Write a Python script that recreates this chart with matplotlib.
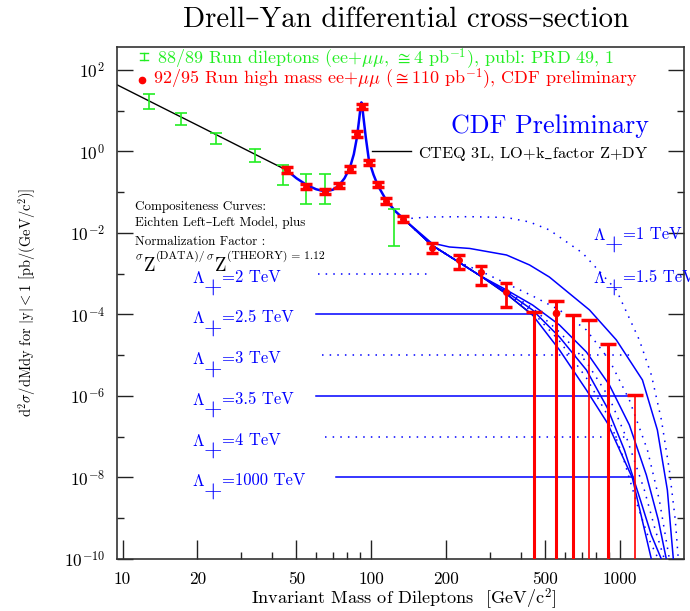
import matplotlib
matplotlib.use('Agg')
import matplotlib.pyplot as plt
from matplotlib.lines import Line2D
from matplotlib.ticker import FixedLocator, NullFormatter

plt.rcParams['font.family'] = ['cmr10', 'DejaVu Serif']
plt.rcParams['mathtext.fontset'] = 'cm'
plt.rcParams['axes.formatter.use_mathtext'] = True
plt.rcParams['axes.unicode_minus'] = False

BLUE = '#0000ff'
RED = '#ff0000'
GREEN = '#22ee22'

# ---------------- data ----------------
# 88/89 run (green)
g_mass = [12.8, 17.1, 23.8, 34.2, 44.2, 54.8, 65.2, 123.0]
g_xsec = [16.7, 6.5, 2.06, 0.82, 0.33, 0.137, 0.103, 0.020]
g_low = [11.0, 4.47, 1.53, 0.55, 0.153, 0.0506, 0.0506, 0.0049]
g_high = [25.3, 8.96, 2.8, 1.15, 0.47, 0.28, 0.28, 0.038]

# 92/95 run (red), measured points
r_mass = [45.6, 54.8, 65.2, 74.1, 81.8, 87.9, 91.6, 97.8, 106.4, 114.8, 134.3,
          175.8, 225.0, 275.0, 349.0]
r_xsec = [0.35, 0.137, 0.103, 0.145, 0.37, 2.64, 12.6, 0.54, 0.153, 0.061, 0.022,
          0.00435, 0.00217, 0.0011, 3.63e-4]
r_low = [0.30, 0.117, 0.088, 0.124, 0.316, 2.26, 10.8, 0.46, 0.131, 0.052, 0.0188,
         0.0033, 0.00133, 0.00054, 1.55e-4]
r_high = [0.41, 0.160, 0.120, 0.170, 0.433, 3.09, 14.7, 0.63, 0.179, 0.071, 0.0257,
          0.0056, 0.00288, 0.00158, 6.0e-4]

# red point whose lower error reaches the bottom of the plot
r_open_mass = [550.0]
r_open_xsec = [1.11e-4]
r_open_high = [2.18e-4]

# red bars without a central value (upper ends only)
lim_mass = [449.0, 647.0, 748.0, 897.0, 1148.0]
lim_top = [1.15e-4, 9.55e-5, 7.3e-5, 1.86e-5, 1.06e-6]
lim_thick = [True, True, False, True, False]

# CTEQ 3L Drell-Yan, low mass part
dy_mass = [9.52, 15.0, 20.0, 30.0, 40.0, 45.6]
dy_xsec = [42.9, 10.6, 4.4, 1.26, 0.52, 0.35]

# Z region shared by all compositeness curves
z_mass = [45.6, 50, 55, 60, 65, 70, 74, 78, 82, 85, 87.5, 89.3, 90.4, 91.2,
          92.0, 93.2, 95, 97.8, 102, 106, 115, 125, 134.9]
z_xsec = [0.35, 0.22, 0.15, 0.118, 0.105, 0.115, 0.145, 0.22, 0.40, 0.85, 2.2,
          6.0, 11.5, 16.0, 12.0, 6.0, 2.2, 0.6, 0.27, 0.15, 0.062, 0.034, 0.0221]

# CTEQ curve above the Z
cteq_mass = [134.9, 174.6, 224.2, 274.8, 349.5, 444.6]
cteq_xsec = [0.0221, 0.00508, 0.00194, 8.81e-4, 3.18e-4, 9.72e-5]

# compositeness tails, Lambda_+ in TeV
lam1_mass = [134.9, 171.4, 248.4, 349.5, 432.5, 519.6, 706.3, 966, 1195, 1336, 1466, 1578, 1667, 1714]
lam1_xsec = [0.0221, 0.0247, 0.0251, 0.024, 0.0186, 0.01186, 0.00323, 3.99e-4, 2.37e-5, 3.27e-6,
             2.58e-7, 1.53e-8, 9.06e-10, 1e-10]
lam15_mass = [134.9, 174.6, 206, 248.4, 349.5, 432.5, 519.6, 753.6, 966, 1230, 1412, 1549, 1637]
lam15_xsec = [0.0221, 0.00569, 0.00453, 0.00417, 0.00288, 0.00164, 8.3e-4, 1.29e-4, 2.37e-5,
              2.47e-6, 1.47e-7, 4.93e-9, 1e-10]
lam2_mass = [134.9, 174.6, 224.2, 285, 359, 444.6, 570.5, 732.2, 905.8, 1089.7, 1288, 1438, 1578]
lam2_xsec = [0.0221, 0.00508, 0.00194, 1.04e-3, 5.3e-4, 2.85e-4, 1.29e-4, 4.17e-5, 7.6e-6,
             7.98e-7, 4.73e-8, 2.8e-9, 1e-10]
lam25_mass = [134.9, 174.6, 224.2, 274.8, 349.5, 444.6, 570.5, 732.2, 905.8, 1089.7, 1275.2, 1424.5, 1534]
lam25_xsec = [0.0221, 0.00508, 0.00194, 8.81e-4, 3.99e-4, 1.71e-4, 5.53e-5, 1.20e-5, 1.86e-6,
              1.94e-7, 1.15e-8, 9.06e-10, 1e-10]
lam3_mass = [134.9, 174.6, 224.2, 274.8, 349.5, 444.6, 570.5, 732.2, 905.8, 1069.8, 1251.9, 1385.7, 1505.8]
lam3_xsec = [0.0221, 0.00508, 0.00194, 8.81e-4, 3.77e-4, 1.44e-4, 3.72e-5, 6.83e-6, 8.93e-7,
             8.32e-8, 4.93e-9, 5.15e-10, 1e-10]
lam35_mass = [134.9, 174.6, 224.2, 274.8, 349.5, 444.6, 570.5, 732.2, 889.2, 1040.6, 1206.5, 1335.4, 1464.7]
lam35_xsec = [0.0221, 0.00508, 0.00194, 8.81e-4, 3.57e-4, 1.29e-4, 2.80e-5, 4.35e-6, 5.08e-7,
              4.73e-8, 2.81e-9, 3.88e-10, 1e-10]
lam4_mass = [134.9, 174.6, 224.2, 274.8, 349.5, 444.6, 570.5, 732.2, 889.2, 1021.4, 1173.5, 1311, 1424.5]
lam4_xsec = [0.0221, 0.00508, 0.00194, 8.81e-4, 3.37e-4, 1.15e-4, 2.24e-5, 2.77e-6, 3.42e-7,
             3.56e-8, 2.11e-9, 2.92e-10, 1e-10]
lam1000_mass = [134.9, 174.6, 224.2, 274.8, 349.5, 444.6, 570.5, 732.2, 889.2, 1120.6, 1335.4]
lam1000_xsec = [0.0221, 0.00508, 0.00194, 8.81e-4, 3.18e-4, 9.72e-5, 1.35e-5, 1.40e-6, 2.17e-7,
                9.7e-9, 1e-10]

# legend rows for the compositeness curves: label, level, start, end, dotted
lam_labels = ['=2 TeV', '=2.5 TeV', '=3 TeV', '=3.5 TeV', '=4 TeV', '=1000 TeV']
lam_levels = [1e-3, 1e-4, 1e-5, 1e-6, 1e-7, 1e-8]
lam_line_start = [60.8, 60.1, 63.5, 60.1, 65.3, 72.3]
lam_line_end = [171.0, 440.0, 1120.0, 1131.0, 1079.0, 1131.0]
lam_dotted = [True, False, True, False, True, False]

xticks_major = [10, 20, 50, 100, 200, 500, 1000]
xticks_minor = [30, 40, 60, 70, 80, 90, 300, 400, 600, 700, 800, 900]
yticks_major = [1e2, 1e0, 1e-2, 1e-4, 1e-6, 1e-8, 1e-10]
ytick_labels = [r'$10^{2}$', r'$10^{0}$', r'$10^{-2}$', r'$10^{-4}$', r'$10^{-6}$',
                r'$10^{-8}$', r'$10^{-10}$']
yticks_minor = [1e1, 1e-1, 1e-3, 1e-5, 1e-7, 1e-9]

# ---------------- figure ----------------
W, H = 690, 611
fig = plt.figure(figsize=(W / 100, H / 100), dpi=100)
ax = fig.add_axes([117.3 / W, 1 - 559 / H, (684 - 117.3) / W, (559 - 46.7) / H])
ax.set_xscale('log')
ax.set_yscale('log')
ax.set_xlim(9.52, 1807)
ax.set_ylim(1e-10, 372)

for s in ax.spines.values():
    s.set_linewidth(1.2)
    s.set_color('#333333')

ax.xaxis.set_major_locator(FixedLocator(xticks_major))
ax.xaxis.set_minor_locator(FixedLocator(xticks_minor))
ax.set_xticklabels([str(v) for v in xticks_major])
ax.xaxis.set_minor_formatter(NullFormatter())
ax.yaxis.set_major_locator(FixedLocator(yticks_major))
ax.set_yticklabels(ytick_labels)
ax.yaxis.set_minor_locator(FixedLocator(yticks_minor))
ax.yaxis.set_minor_formatter(NullFormatter())
ax.tick_params(axis='both', which='both', direction='in', colors='#222222',
               labelcolor='black', width=1.0)
ax.tick_params(axis='x', which='major', length=14, pad=9, labelsize=12.5)
ax.tick_params(axis='x', which='minor', length=5)
ax.tick_params(axis='y', which='major', length=11.5, pad=9, labelsize=12.5,
               left=True, right=True)
ax.tick_params(axis='y', which='minor', length=5, left=True, right=True)

# theory curves
ax.plot(dy_mass, dy_xsec, color='black', lw=1.0, zorder=2)
ax.plot(cteq_mass, cteq_xsec, color='black', lw=1.0, zorder=2)

dot = dict(color=BLUE, lw=1.1, linestyle=(0, (1, 4)), zorder=3)
sol = dict(color=BLUE, lw=1.1, linestyle='-', zorder=3)
ax.plot(lam1_mass, lam1_xsec, **dot)
ax.plot(lam15_mass, lam15_xsec, **sol)
ax.plot(lam2_mass, lam2_xsec, **dot)
ax.plot(lam25_mass, lam25_xsec, **sol)
ax.plot(lam3_mass, lam3_xsec, **dot)
ax.plot(lam35_mass, lam35_xsec, **sol)
ax.plot(lam4_mass, lam4_xsec, **dot)
ax.plot(lam1000_mass, lam1000_xsec, **sol)
ax.plot(z_mass, z_xsec, color=BLUE, lw=1.8, zorder=3)

# legend rows lines
for lev, x0, x1, dotted in zip(lam_levels, lam_line_start, lam_line_end, lam_dotted):
    ax.plot([x0, x1], [lev, lev], **(dot if dotted else sol))

# CTEQ legend line
ax.plot([100.3, 143.9], [1.0, 1.0], color='black', lw=1.0)

# green data
g_err = [[v - l for v, l in zip(g_xsec, g_low)], [h - v for v, h in zip(g_xsec, g_high)]]
ax.errorbar(g_mass, g_xsec, yerr=g_err, fmt='none', ecolor=GREEN, elinewidth=1.2,
            capsize=4.5, capthick=1.2, zorder=4)

# red data
r_err = [[v - l for v, l in zip(r_xsec, r_low)], [h - v for v, h in zip(r_xsec, r_high)]]
ax.errorbar(r_mass, r_xsec, yerr=r_err, fmt='o', color=RED, ms=4, ecolor=RED,
            elinewidth=2.0, capsize=4.5, capthick=2.5, zorder=5)
for m, v, h in zip(r_open_mass, r_open_xsec, r_open_high):
    ax.vlines(m, 1e-10, h, color=RED, lw=2.2, zorder=5)
    ax.plot([m], [h], marker='_', ms=11, mew=2.5, color=RED, zorder=5)
    ax.plot([m], [v], marker='o', ms=4.5, color=RED, zorder=5)
for m, t, thick in zip(lim_mass, lim_top, lim_thick):
    ax.vlines(m, 1e-10, t, color=RED, lw=2.2 if thick else 1.2, zorder=5)
    ax.plot([m], [t], marker='_', ms=11, mew=2.5, color=RED, zorder=5)


def ftext(x, y, s, **kw):
    return fig.text(x / W, 1 - y / H, s, **kw)


renderer = fig.canvas.get_renderer()


def run_text(x, pieces, **kw):
    """Place text pieces one after another; each piece is (text, baseline_y, size)."""
    for s, y, size in pieces:
        t = ftext(x, y, s, fontsize=size, va='baseline', **kw)
        x = t.get_window_extent(renderer).x1 + 0.5


# titles and axis labels
ftext(406, 27, 'Drell\u2013Yan differential cross\u2013section', ha='center', va='baseline',
      fontsize=20.8)
ftext(404, 605, r'Invariant Mass of Dileptons  [GeV/c$^{2}$]', ha='center', va='baseline',
      fontsize=13.1)
ftext(27, 302, r'd$^{2}\sigma$/dMdy for $|$y$|$$<$1 [pb/(GeV/c$^{2}$)]', ha='center',
      va='center', rotation=90, fontsize=10.4)

# data legend
fig.add_artist(Line2D([143.5 / W, 143.5 / W], [1 - 53 / H, 1 - 60 / H], color=GREEN, lw=1.0))
for yy in (53, 60):
    fig.add_artist(Line2D([139.5 / W, 147.5 / W], [1 - yy / H, 1 - yy / H], color=GREEN, lw=1.0))
ftext(157, 65, r'88/89 Run dileptons (ee+$\mu\mu$, $\cong$4 pb$^{-1}$), publ: PRD 49, 1',
      color=GREEN, fontsize=13.0, va='baseline')
fig.add_artist(Line2D([142.3 / W], [1 - 80 / H], marker='o', ms=4.5, color=RED))
ftext(153, 85, r'92/95 Run high mass ee+$\mu\mu$ ($\cong$110 pb$^{-1}$), CDF preliminary',
      color=RED, fontsize=13.0, va='baseline')

ftext(451, 133, 'CDF Preliminary', color=BLUE, fontsize=18.7, va='baseline')
ftext(418, 158, 'CTEQ 3L, LO+k' + r'$\_$' + 'factor Z+DY', color='black', fontsize=11.8,
      va='baseline')

# compositeness note
ftext(135, 210, 'Compositeness Curves:', fontsize=9.4, va='baseline')
ftext(135, 226, 'Eichten Left\u2013Left Model, plus', fontsize=9.4, va='baseline')
ftext(135, 245, 'Normalization Factor :', fontsize=9.4, va='baseline')
run_text(135, [(r'$\sigma$', 260, 8.5), ('Z', 271, 13.5), ('(DATA)/', 259, 8.4),
               (r'$\sigma$', 260, 8.5), ('Z', 271, 13.5), ('(THEORY) = 1.12', 259, 8.4)])


def lam_label(x, y_level_px, s):
    ftext(x, y_level_px + 9, r'$\Lambda$', color=BLUE, fontsize=12, va='baseline')
    ftext(x + 20.5, y_level_px + 15, '+', color=BLUE, fontsize=17, va='center', ha='center')
    ftext(x + 30, y_level_px + 8, s, color=BLUE, fontsize=12, va='baseline')


for lab, lev in zip(lam_labels, lam_levels):
    ypx = ax.transData.transform((10, lev))[1]
    lam_label(192, H - ypx, lab)

lam_label(593, 231, '=1 TeV')
lam_label(593, 274, '=1.5 TeV')

fig.savefig('out.png', dpi=100)
